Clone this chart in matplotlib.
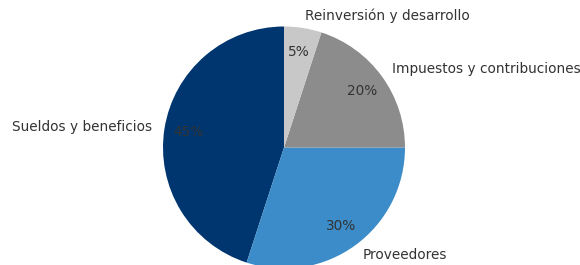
import matplotlib
matplotlib.use('Agg')
from matplotlib import pyplot as plt

labels = ['Sueldos y beneficios', 'Proveedores', 'Impuestos y contribuciones', 'Reinversión y desarrollo']
values = [45, 30, 20, 5]
colors = ['#003670', '#3b8cc8', '#8c8c8c', '#c8c8c8']

fig = plt.figure(figsize=(5.8, 2.65), dpi=100)
W, H = 580, 265
r_px = 121
cx, cy = 284, 265 - 147.5
lim = 1.05
half = r_px * lim
ax = fig.add_axes([(cx - half) / W, (cy - half) / H, 2 * half / W, 2 * half / H])

wedges, texts, autotexts = ax.pie(values, labels=labels, colors=colors, startangle=90,
                                  autopct='%1.0f%%', pctdistance=0.8, labeldistance=1.1,
                                  textprops={'color': '#333333', 'fontsize': 9.8})
ax.set_xlim(-lim, lim)
ax.set_ylim(-lim, lim)
ax.set_aspect('equal')
ax.axis('off')

fig.savefig('out.png', dpi=100)
